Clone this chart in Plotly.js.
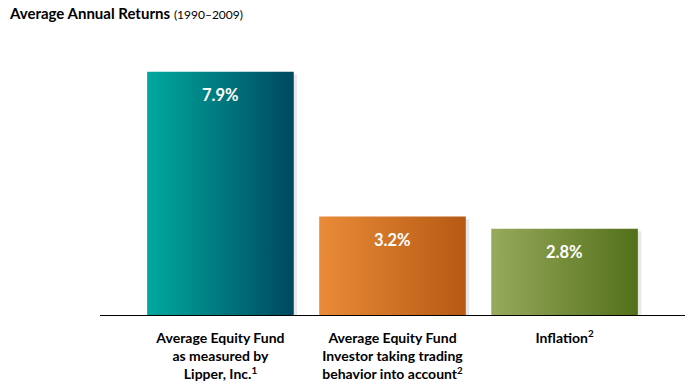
<!DOCTYPE html>
<html>
<head>
<meta charset="utf-8">
<script src="https://cdn.plot.ly/plotly-3.0.1.min.js"></script>
<style>html,body{margin:0;padding:0;background:#fff;}#chart{width:690px;height:387px;}</style>
</head>
<body>
<div id="chart"></div>
<script>
// ---- data ----
const categories = [
  "Average Equity Fund<br>as measured by<br>Lipper, Inc.<sup>1</sup>",
  "Average Equity Fund<br>Investor taking trading<br>behavior into account<sup>2</sup>",
  "Inflation<sup>2</sup>"
];
const returnsPct = [7.9, 3.2, 2.8];
const valueLabels = ["7.9%", "3.2%", "2.8%"];
const leftColors = ["#00A99D", "#E98B37", "#98AA5C"];
const rightColors = ["#004860", "#B65A14", "#52701A"];

// ---- styles ----
const barWidth = 0.852;
const fontFam = "Lato, 'Open Sans', sans-serif";

const traces = [];
// soft shadows
returnsPct.forEach((v, i) => {
  const x0 = i - barWidth / 2 + 0.015, x1 = i + barWidth / 2 + 0.02;
  traces.push({
    type: "scatter", mode: "lines", hoverinfo: "skip", showlegend: false,
    x: [x0, x1, x1, x0, x0],
    y: [-0.2, -0.2, v - 0.08, v - 0.08, -0.2],
    fill: "toself", fillcolor: "rgba(0,0,0,0.09)", line: { width: 0 }
  });
});
// gradient bars
returnsPct.forEach((v, i) => {
  const x0 = i - barWidth / 2, x1 = i + barWidth / 2;
  traces.push({
    type: "scatter", mode: "lines", showlegend: false,
    name: categories[i], hovertemplate: valueLabels[i] + "<extra></extra>",
    x: [x0, x1, x1, x0, x0],
    y: [0, 0, v, v, 0],
    fill: "toself",
    fillgradient: { type: "horizontal", colorscale: [[0, leftColors[i]], [1, rightColors[i]]] },
    line: { width: 0 }
  });
});

const annotations = returnsPct.map((v, i) => ({
  x: i, y: v, xref: "x", yref: "y", text: valueLabels[i], showarrow: false,
  yanchor: "middle", yshift: -23,
  font: { family: fontFam, size: 16.5, color: "#ffffff", weight: "bold" }
}));

const layout = {
  width: 690, height: 387,
  margin: { l: 100, r: 5, t: 38, b: 72 },
  paper_bgcolor: "#fff", plot_bgcolor: "#fff",
  showlegend: false,
  title: {
    text: "<b>Average Annual Returns</b> <span style='font-size:12px'>(1990–2009)</span>",
    xref: "container", x: 0.0145, xanchor: "left",
    yref: "container", y: 0.965, yanchor: "middle",
    font: { family: fontFam, size: 15, color: "#000" }
  },
  xaxis: {
    range: [-0.7, 2.7], fixedrange: true,
    tickmode: "array", tickvals: [0, 1, 2], ticktext: categories,
    ticks: "", ticklabelstandoff: 10,
    tickfont: { family: fontFam, size: 14, color: "#000", weight: "bold" },
    showgrid: false, zeroline: false,
    showline: true, linecolor: "#000", linewidth: 1.2
  },
  yaxis: {
    range: [0, 9], visible: false, showgrid: false, zeroline: false, fixedrange: true
  },
  annotations: annotations
};

Plotly.newPlot("chart", traces, layout, { displayModeBar: false, staticPlot: true });
</script>
</body>
</html>
